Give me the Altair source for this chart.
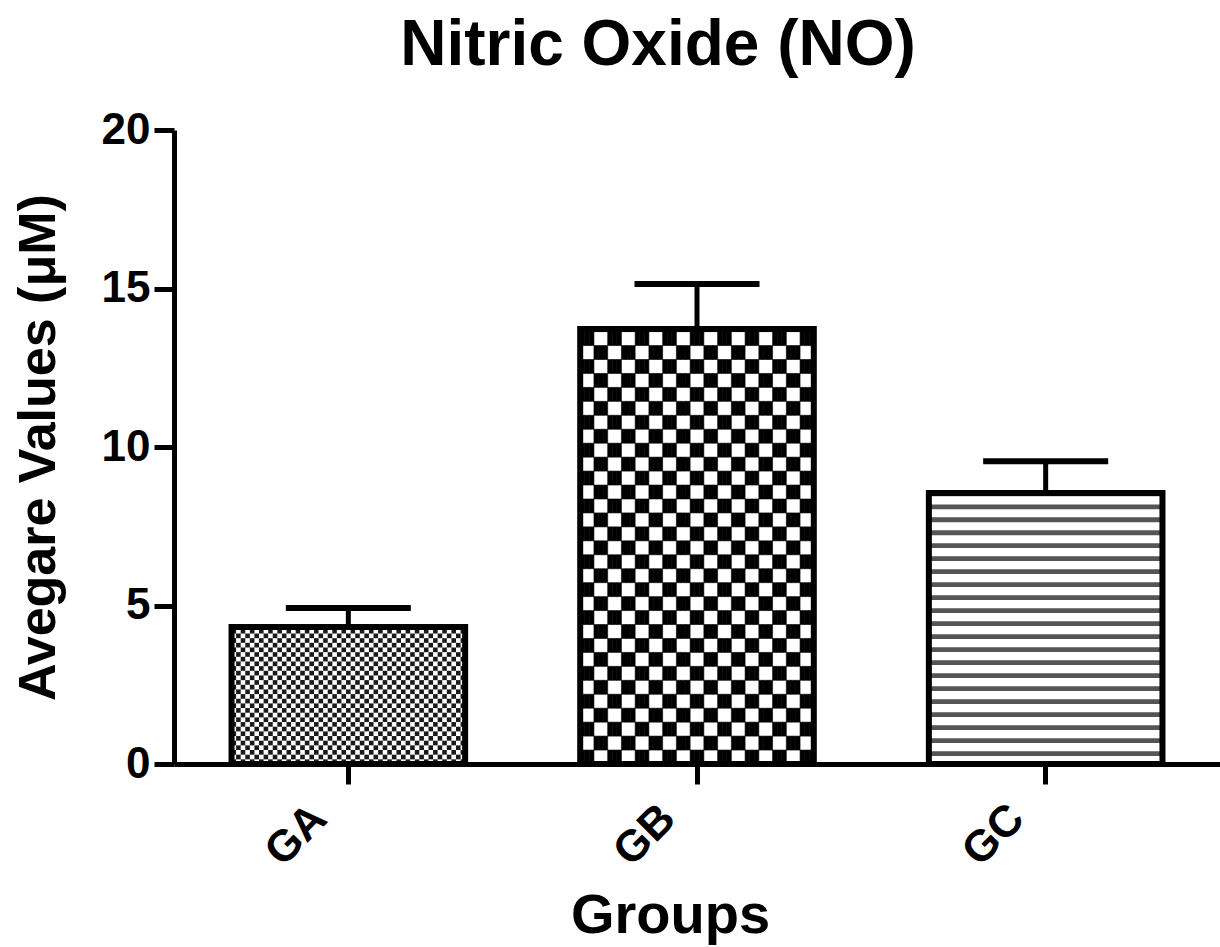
import altair as alt
import pandas as pd

groups = ["GA", "GB", "GC"]
means = [4.32, 13.72, 8.55]
errors = [0.60, 1.42, 1.00]

df = pd.DataFrame({"group": groups, "value": means, "err": errors})
df["hi"] = df["value"] + df["err"]

FONT = "Liberation Sans"
xscale = alt.Scale(domain=groups, paddingInner=0.33, paddingOuter=0.165)
yscale = alt.Scale(domain=[0, 20], nice=False)
offscale = alt.Scale(domain=list(range(51)), paddingInner=0, paddingOuter=0)

X = alt.X("group:N", scale=xscale, sort=groups,
          axis=alt.Axis(title="Groups", labelAngle=-45, tickSize=20,
                        labelOffset=-44, labelPadding=12, titleFontSize=56,
                        titleX=496, titleY=168, titleBaseline="alphabetic"))
Y = alt.Y("value:Q", scale=yscale,
          axis=alt.Axis(title="Avegare Values (μM)", values=[0, 5, 10, 15, 20],
                        tickSize=20, labelPadding=4, titlePadding=36, titleFontSize=52,
                        grid=False))

base = alt.Chart(df)

fill_white = base.mark_bar(color="white").encode(x=X, y=Y)

# GA fine checker
ga_h = 0.147
ga = base.transform_filter("datum.group == 'GA'").transform_calculate(
    r=f"sequence(0, ceil(datum.value / {ga_h}))"
).transform_flatten(["r"]).transform_calculate(
    c="sequence(0, 51)"
).transform_flatten(["c"]).transform_filter(
    "(datum.r + datum.c) % 2 == 0"
).transform_calculate(
    y0=f"datum.r * {ga_h}", y1=f"min(datum.value, (datum.r + 1) * {ga_h})"
).mark_bar(color="#1a1a1a").encode(
    x=alt.X("group:N", scale=xscale),
    xOffset=alt.XOffset("c:O", scale=offscale),
    y=alt.Y("y0:Q", scale=yscale), y2="y1:Q")

# GB coarse checker
gb_h = 0.44
gb = base.transform_filter("datum.group == 'GB'").transform_calculate(
    r=f"sequence(0, ceil(datum.value / {gb_h}))"
).transform_flatten(["r"]).transform_calculate(
    c="sequence(0, 51)"
).transform_flatten(["c"]).transform_filter(
    "(datum.r + floor(datum.c / 3)) % 2 == 0"
).transform_calculate(
    y0=f"datum.r * {gb_h}", y1=f"min(datum.value, (datum.r + 1) * {gb_h})"
).mark_bar(color="black", stroke="black", strokeWidth=0.6).encode(
    x=alt.X("group:N", scale=xscale),
    xOffset=alt.XOffset("c:O", scale=offscale),
    y=alt.Y("y0:Q", scale=yscale), y2="y1:Q")

# GC horizontal lines
gc = base.transform_filter("datum.group == 'GC'").transform_calculate(
    ys="sequence(0.25, datum.value - 0.1, 0.41)"
).transform_flatten(["ys"]).transform_calculate(
    ye="datum.ys + 0.15"
).mark_bar(color="#555555").encode(
    x=alt.X("group:N", scale=xscale),
    y=alt.Y("ys:Q", scale=yscale), y2="ye:Q")

outline = base.mark_bar(fillOpacity=0, stroke="black", strokeWidth=6).encode(x=X, y=Y)

err_rule = base.mark_rule(color="black", strokeWidth=5).encode(
    x=alt.X("group:N", scale=xscale), y=alt.Y("value:Q", scale=yscale), y2="hi:Q")
err_cap = base.mark_tick(color="black", opacity=1, size=125, thickness=6).encode(
    x=alt.X("group:N", scale=xscale), y=alt.Y("hi:Q", scale=yscale))

chart = alt.layer(fill_white, ga, gb, gc, outline, err_rule, err_cap).properties(
    width=1046, height=634,
    title=alt.TitleParams("Nitric Oxide (NO)", font=FONT, fontSize=64, fontWeight="bold",
                          color="black", anchor="middle", dx=-39, offset=-34,
                          baseline="bottom"),
    autosize=alt.AutoSizeParams(type="none"),
    padding={"left": 174, "top": 130, "right": 0, "bottom": 183},
).configure_view(stroke=None).configure_axis(
    domainColor="black", domainWidth=5, tickColor="black", tickWidth=5,
    labelFont=FONT, labelFontWeight="bold", labelFontSize=44, labelColor="black",
    titleFont=FONT, titleFontWeight="bold", titleColor="black",
)

chart.save("out.html", embed_options={"renderer": "svg", "actions": False})
